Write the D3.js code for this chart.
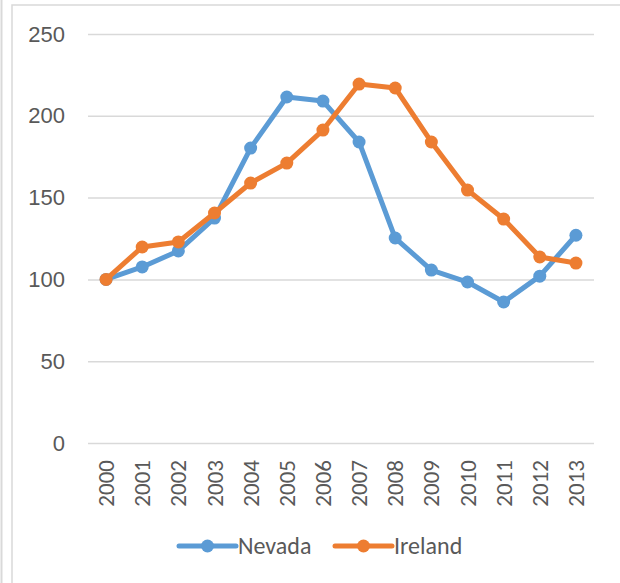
<!DOCTYPE html>
<html>
<head>
<meta charset="utf-8">
<script src="https://cdn.jsdelivr.net/npm/d3@7"></script>
<style>
  html, body { margin: 0; padding: 0; background: #fff; }
  svg { display: block; font-family: Carlito, Calibri, "Open Sans", sans-serif; }
</style>
</head>
<body>
<div id="chartContainer"></div>
<script>
// chart data
const years = ["2000", "2001", "2002", "2003", "2004", "2005", "2006",
  "2007", "2008", "2009", "2010", "2011", "2012", "2013"];
const nevada = [100, 107.6, 117.4, 137.5, 180.3, 211.5, 209, 184, 125.3, 105.7, 98.4, 86.2, 102, 127];
const ireland = [100, 119.8, 122.9, 140.6, 158.9, 171.1, 191.3, 219.4, 217, 184, 154.6, 136.9, 113.7, 110];
const yTicks = [0, 50, 100, 150, 200, 250];
const seriesNames = ["Nevada", "Ireland"];

const colors = ["#5B9BD5", "#ED7D31"];
const W = 620, H = 583;
const plot = { left: 88, right: 594, top: 34, bottom: 443 };

const svg = d3
  .select("#chartContainer")
  .append("svg")
  .attr("width", W)
  .attr("height", H);

// frame lines like the spreadsheet border
svg.append("line").attr("x1", 1.5).attr("x2", 1.5).attr("y1", 0).attr("y2", H)
  .attr("stroke", "#D9D9D9").attr("stroke-width", 2);
svg.append("rect").attr("x", 12).attr("y", 5).attr("width", W).attr("height", H)
  .attr("fill", "#fff").attr("stroke", "#D9D9D9").attr("stroke-width", 1.5);

const x = d3.scaleBand().domain(years).range([plot.left, plot.right]);
const cx = (d) => x(d) + x.bandwidth() / 2;
const y = d3.scaleLinear().domain([0, 250]).range([plot.bottom, plot.top]);

// gridlines + y labels
const yAxis = svg.append("g")
  .attr("transform", "translate(" + plot.left + ",0)")
  .call(d3.axisLeft(y).tickValues(yTicks).tickSize(-(plot.right - plot.left)).tickPadding(23));
yAxis.select(".domain").remove();
yAxis.selectAll(".tick line").attr("stroke", "#D9D9D9").attr("stroke-width", 1.5);
yAxis.selectAll(".tick text")
  .attr("fill", "#595959")
  .style("font-size", "22px")
  .style("font-family", "inherit");

// x labels, rotated
svg.append("g")
  .selectAll("text")
  .data(years)
  .enter()
  .append("text")
  .attr("transform", (d) => "translate(" + cx(d) + ",460) rotate(-90)")
  .attr("text-anchor", "end")
  .attr("dy", "0.35em")
  .attr("fill", "#595959")
  .style("font-size", "23px")
  .text((d) => d);

// series
const series = [nevada, ireland];
const line = d3.line().x((d, i) => cx(years[i])).y((d) => y(d));

series.forEach((vals, k) => {
  const g = svg.append("g");
  g.append("path")
    .datum(vals)
    .attr("d", line)
    .attr("fill", "none")
    .attr("stroke", colors[k])
    .attr("stroke-width", 5)
    .attr("stroke-linejoin", "round");
  g.selectAll("circle")
    .data(vals)
    .enter()
    .append("circle")
    .attr("cx", (d, i) => cx(years[i]))
    .attr("cy", (d) => y(d))
    .attr("r", 6.5)
    .attr("fill", colors[k]);
});

// legend
const legendX = [179, 335];
const legend = svg.append("g");
seriesNames.forEach((name, k) => {
  const lx = legendX[k];
  legend.append("line")
    .attr("x1", lx).attr("x2", lx + 57)
    .attr("y1", 546).attr("y2", 546)
    .attr("stroke", colors[k]).attr("stroke-width", 5).attr("stroke-linecap", "round");
  legend.append("circle")
    .attr("cx", lx + 28.5).attr("cy", 546).attr("r", 6.5).attr("fill", colors[k]);
  legend.append("text")
    .attr("x", lx + 59).attr("y", 546).attr("dy", "0.35em")
    .attr("fill", "#595959")
    .style("font-size", "24px")
    .text(name);
});
</script>
</body>
</html>
